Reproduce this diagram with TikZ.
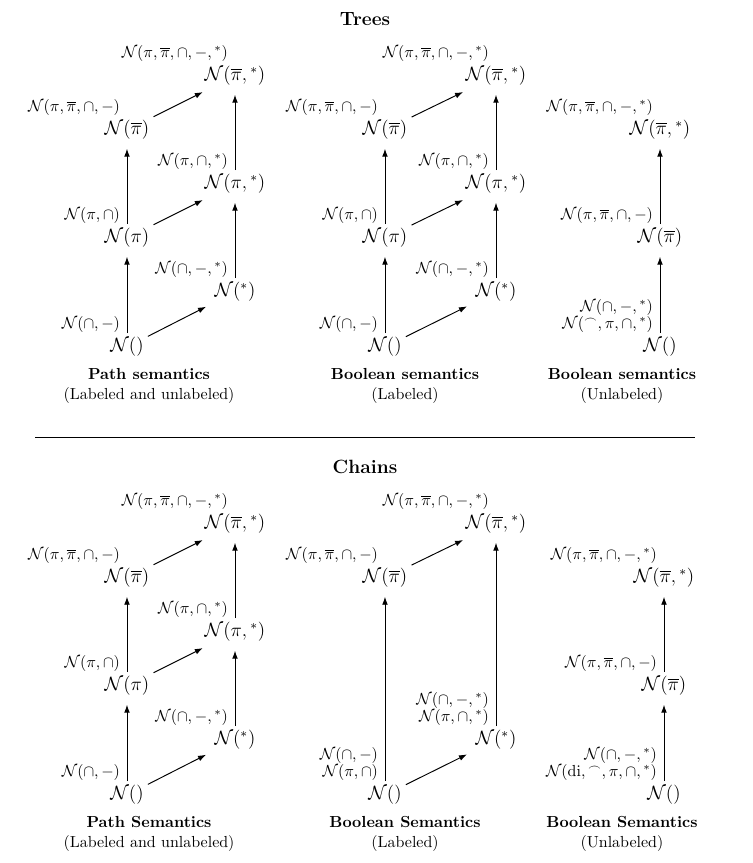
\documentclass[tikz,border=0pt]{standalone}
\usepackage{amsmath,amssymb}
\usepackage{tikz}
\usetikzlibrary{arrows.meta,positioning}
\newcommand{\NN}{\mathcal{N}}
\newcommand{\pib}{\overline{\pi}}
\newcommand{\st}{{}^{*}}
\newcommand{\cv}{{}^{\frown}}

\begin{document}
\begin{tikzpicture}[
  x=1cm,
  y=1cm,
  frag/.style={font=\large, inner sep=2.5pt},
  lbl/.style={inner sep=0pt, align=right},
  caption/.style={align=center},
  heading/.style={font=\large\bfseries},
  arrow/.style={-{Latex[length=5pt,width=3.6pt]}, semithick, shorten >=3pt}
]
\useasboundingbox (0,0) rectangle (16.543,18.960);

\node[heading] (trees) at (8.019,18.543) {Trees};
\node[heading] (chains) at (8.019,8.700) {Chains};
\coordinate (ruleleft) at (0.769,9.359);
\coordinate (ruleright) at (15.269,9.359);
\draw[semithick] (ruleleft) -- (ruleright);

\node[frag] (t1a) at (2.790,11.336) {$\NN()$};
\node[frag] (t1b) at (5.163,12.545) {$\NN(\st)$};
\node[frag] (t1c) at (2.790,13.731) {$\NN(\pi)$};
\node[frag] (t1d) at (5.163,14.918) {$\NN(\pi,\st)$};
\node[frag] (t1e) at (2.790,16.104) {$\NN(\pib)$};
\node[frag] (t1f) at (5.163,17.290) {$\NN(\pib,\st)$};
\node[lbl, above left=0.3pt and 4.2pt of t1a.north] (t1al) {$\NN(\cap,-)$};
\node[lbl, above left=0.3pt and 4.2pt of t1b.north] (t1bl) {$\NN(\cap,-,\st)$};
\node[lbl, above left=0.3pt and 4.2pt of t1c.north] (t1cl) {$\NN(\pi,\cap)$};
\node[lbl, above left=0.3pt and 4.2pt of t1d.north] (t1dl) {$\NN(\pi,\cap,\st)$};
\node[lbl, above left=0.3pt and 4.2pt of t1e.north] (t1el) {$\NN(\pi,\pib,\cap,-)$};
\node[lbl, above left=0.3pt and 4.2pt of t1f.north] (t1fl) {$\NN(\pi,\pib,\cap,-,\st)$};
\node[caption] (t1cap) at (3.274,10.480) {\textbf{Path semantics}\\(Labeled and unlabeled)};

\node[frag] (t2a) at (8.458,11.336) {$\NN()$};
\node[frag] (t2b) at (10.897,12.545) {$\NN(\st)$};
\node[frag] (t2c) at (8.458,13.731) {$\NN(\pi)$};
\node[frag] (t2d) at (10.897,14.918) {$\NN(\pi,\st)$};
\node[frag] (t2e) at (8.458,16.104) {$\NN(\pib)$};
\node[frag] (t2f) at (10.897,17.290) {$\NN(\pib,\st)$};
\node[lbl, above left=0.3pt and 4.2pt of t2a.north] (t2al) {$\NN(\cap,-)$};
\node[lbl, above left=0.3pt and 4.2pt of t2b.north] (t2bl) {$\NN(\cap,-,\st)$};
\node[lbl, above left=0.3pt and 4.2pt of t2c.north] (t2cl) {$\NN(\pi,\cap)$};
\node[lbl, above left=0.3pt and 4.2pt of t2d.north] (t2dl) {$\NN(\pi,\cap,\st)$};
\node[lbl, above left=0.3pt and 4.2pt of t2e.north] (t2el) {$\NN(\pi,\pib,\cap,-)$};
\node[lbl, above left=0.3pt and 4.2pt of t2f.north] (t2fl) {$\NN(\pi,\pib,\cap,-,\st)$};
\node[caption] (t2cap) at (8.898,10.480) {\textbf{Boolean semantics}\\(Labeled)};

\node[frag] (t3a) at (14.500,11.336) {$\NN()$};
\node[frag] (t3b) at (14.500,13.731) {$\NN(\pib)$};
\node[frag] (t3c) at (14.500,16.104) {$\NN(\pib,\st)$};
\node[lbl, above left=0.3pt and 4.2pt of t3a.north] (t3al) {$\NN(\cap,-,\st)$\\[-1.2pt]$\NN(\cv,\pi,\cap,\st)$};
\node[lbl, above left=0.3pt and 4.2pt of t3b.north] (t3bl) {$\NN(\pi,\pib,\cap,-)$};
\node[lbl, above left=0.3pt and 4.2pt of t3c.north] (t3cl) {$\NN(\pi,\pib,\cap,-,\st)$};
\node[caption] (t3cap) at (13.665,10.480) {\textbf{Boolean semantics}\\(Unlabeled)};

\node[frag] (c1a) at (2.790,1.494) {$\NN()$};
\node[frag] (c1b) at (5.163,2.702) {$\NN(\st)$};
\node[frag] (c1c) at (2.790,3.889) {$\NN(\pi)$};
\node[frag] (c1d) at (5.163,5.075) {$\NN(\pi,\st)$};
\node[frag] (c1e) at (2.790,6.261) {$\NN(\pib)$};
\node[frag] (c1f) at (5.163,7.448) {$\NN(\pib,\st)$};
\node[lbl, above left=0.3pt and 4.2pt of c1a.north] (c1al) {$\NN(\cap,-)$};
\node[lbl, above left=0.3pt and 4.2pt of c1b.north] (c1bl) {$\NN(\cap,-,\st)$};
\node[lbl, above left=0.3pt and 4.2pt of c1c.north] (c1cl) {$\NN(\pi,\cap)$};
\node[lbl, above left=0.3pt and 4.2pt of c1d.north] (c1dl) {$\NN(\pi,\cap,\st)$};
\node[lbl, above left=0.3pt and 4.2pt of c1e.north] (c1el) {$\NN(\pi,\pib,\cap,-)$};
\node[lbl, above left=0.3pt and 4.2pt of c1f.north] (c1fl) {$\NN(\pi,\pib,\cap,-,\st)$};
\node[caption] (c1cap) at (3.274,0.637) {\textbf{Path Semantics}\\(Labeled and unlabeled)};

\node[frag] (c2a) at (8.458,1.494) {$\NN()$};
\node[frag] (c2b) at (10.897,2.702) {$\NN(\st)$};
\node[frag] (c2c) at (8.458,6.261) {$\NN(\pib)$};
\node[frag] (c2d) at (10.897,7.448) {$\NN(\pib,\st)$};
\node[lbl, above left=0.3pt and 4.2pt of c2a.north] (c2al) {$\NN(\cap,-)$\\[-1.2pt]$\NN(\pi,\cap)$};
\node[lbl, above left=0.3pt and 4.2pt of c2b.north] (c2bl) {$\NN(\cap,-,\st)$\\[-1.2pt]$\NN(\pi,\cap,\st)$};
\node[lbl, above left=0.3pt and 4.2pt of c2c.north] (c2cl) {$\NN(\pi,\pib,\cap,-)$};
\node[lbl, above left=0.3pt and 4.2pt of c2d.north] (c2dl) {$\NN(\pi,\pib,\cap,-,\st)$};
\node[caption] (c2cap) at (8.898,0.637) {\textbf{Boolean Semantics}\\(Labeled)};

\node[frag] (c3a) at (14.588,1.494) {$\NN()$};
\node[frag] (c3b) at (14.588,3.889) {$\NN(\pib)$};
\node[frag] (c3c) at (14.588,6.261) {$\NN(\pib,\st)$};
\node[lbl, above left=0.3pt and 4.2pt of c3a.north] (c3al) {$\NN(\cap,-,\st)$\\[-1.2pt]$\NN(\mathrm{di},\cv,\pi,\cap,\st)$};
\node[lbl, above left=0.3pt and 4.2pt of c3b.north] (c3bl) {$\NN(\pi,\pib,\cap,-)$};
\node[lbl, above left=0.3pt and 4.2pt of c3c.north] (c3cl) {$\NN(\pi,\pib,\cap,-,\st)$};
\node[caption] (c3cap) at (13.665,0.637) {\textbf{Boolean Semantics}\\(Unlabeled)};

\draw[arrow] (t1a) -- (t1c);
\draw[arrow] (t1c) -- (t1e);
\draw[arrow] (t1b) -- (t1d);
\draw[arrow] (t1d) -- (t1f);
\draw[arrow] (t1a) -- (t1b);
\draw[arrow] (t1c) -- (t1d);
\draw[arrow] (t1e) -- (t1f);

\draw[arrow] (t2a) -- (t2c);
\draw[arrow] (t2c) -- (t2e);
\draw[arrow] (t2b) -- (t2d);
\draw[arrow] (t2d) -- (t2f);
\draw[arrow] (t2a) -- (t2b);
\draw[arrow] (t2c) -- (t2d);
\draw[arrow] (t2e) -- (t2f);

\draw[arrow] (t3a) -- (t3b);
\draw[arrow] (t3b) -- (t3c);

\draw[arrow] (c1a) -- (c1c);
\draw[arrow] (c1c) -- (c1e);
\draw[arrow] (c1b) -- (c1d);
\draw[arrow] (c1d) -- (c1f);
\draw[arrow] (c1a) -- (c1b);
\draw[arrow] (c1c) -- (c1d);
\draw[arrow] (c1e) -- (c1f);

\draw[arrow] (c2a) -- (c2c);
\draw[arrow] (c2b) -- (c2d);
\draw[arrow] (c2a) -- (c2b);
\draw[arrow] (c2c) -- (c2d);

\draw[arrow] (c3a) -- (c3b);
\draw[arrow] (c3b) -- (c3c);
\end{tikzpicture}
\end{document}
